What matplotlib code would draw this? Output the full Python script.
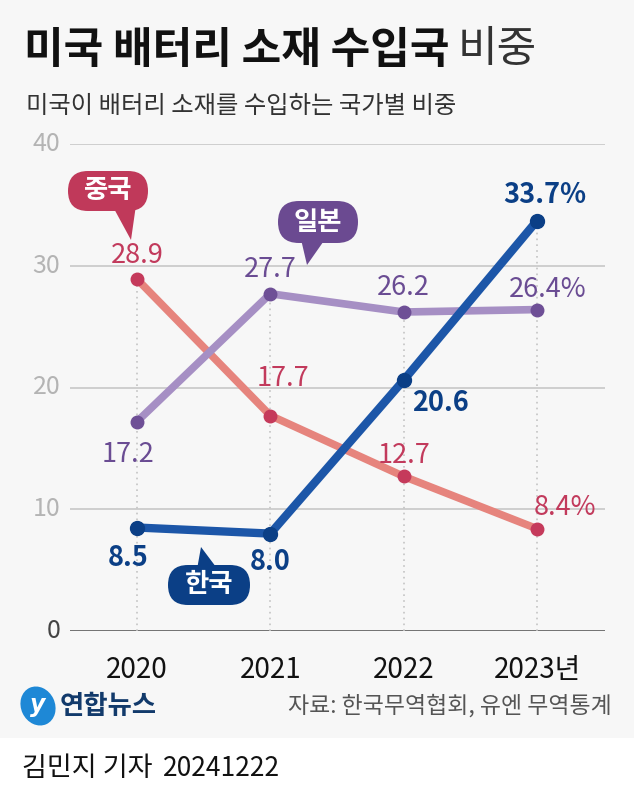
import matplotlib
matplotlib.use("Agg")
import matplotlib.pyplot as plt
from matplotlib.patches import FancyBboxPatch, Polygon, Ellipse, Rectangle

plt.rcParams['font.family'] = ['Noto Sans CJK KR', 'DejaVu Sans']

# ---- data ----
years = [2020, 2021, 2022, 2023]
year_labels = ["2020", "2021", "2022", "2023년"]
china = [28.9, 17.7, 12.7, 8.4]
japan = [17.2, 27.7, 26.2, 26.4]
korea = [8.5, 8.0, 20.6, 33.7]
china_labels = ["28.9", "17.7", "12.7", "8.4%"]
japan_labels = ["17.2", "27.7", "26.2", "26.4%"]
korea_labels = ["8.5", "8.0", "20.6", "33.7%"]
yticks = [0, 10, 20, 30, 40]

W, H = 634, 800
fig = plt.figure(figsize=(W / 100, H / 100), dpi=100)
fig.patch.set_facecolor("#f7f7f7")

bg = fig.add_axes([0, 0, 1, 1], zorder=0)
bg.set_xlim(0, W); bg.set_ylim(H, 0); bg.axis("off")
bg.add_patch(Rectangle((0, 738), W, 62, facecolor="white", edgecolor="none"))

# overlay in pixel coordinates for annotations / header / footer
ov = fig.add_axes([0, 0, 1, 1], zorder=3)
ov.set_xlim(0, W)
ov.set_ylim(H, 0)
ov.axis("off")
ov.patch.set_alpha(0)

# chart axes
L, R, B, T = 70, 605, 631, 144
ax = fig.add_axes([L / W, 1 - B / H, (R - L) / W, (B - T) / H], zorder=2)
ax.patch.set_alpha(0)
ax.set_xlim(2020 - 67 / 133.33, 2023 + 68 / 133.33)
ax.set_ylim(0, 40)
for s in ax.spines.values():
    s.set_visible(False)
ax.set_xticks([]); ax.set_yticks([])

for v in yticks:
    ax.axhline(v, color="#4a4a4a" if v == 0 else "#c8c8c8",
               lw=1.8 if v == 0 else 1.2, zorder=1)
    ax.text(-0.018, v, str(v), transform=ax.get_yaxis_transform(),
            ha="right", va="center", fontsize=18,
            color="#444444" if v == 0 else "#b4b4b4")

for i, x in enumerate(years):
    top = max(china[i], japan[i], korea[i])
    ax.plot([x, x], [0, top], color="#c4c4c4", lw=1.2, ls=(0, (1, 2.5)), zorder=1)
    ax.text(x, -2.0, year_labels[i], ha="center", va="top", fontsize=20,
            color="#111111")

# series
ax.plot(years, china, color="#e6847d", lw=5.5, zorder=3)
ax.plot(years, china, "o", color="#c53a5b", ms=9, zorder=4)
ax.plot(years, japan, color="#a68fc4", lw=5.5, zorder=3)
ax.plot(years, japan, "o", color="#6e4f96", ms=9, zorder=4)
ax.plot(years, korea, color="#1c56a8", lw=6, zorder=5)
ax.plot(years, korea, "o", color="#0b3f86", ms=10, zorder=6)

def lab(x, y, s, dx, dy, color, bold=False):
    ax.annotate(s, (x, y), xytext=(dx / 1.389, dy / 1.389), textcoords="offset points",
                ha="center", va="center", fontsize=19.5, color=color,
                fontweight="bold" if bold else "normal", zorder=7,
                annotation_clip=False)

ccol, jcol, kcol = "#c23a5c", "#6a4c93", "#0b3f86"
for x, y, s, (dx, dy) in zip(years, china, china_labels,
                             [(0, 24), (13, 37), (0, 21), (28, 21)]):
    lab(x, y, s, dx, dy, ccol)
for x, y, s, (dx, dy) in zip(years, japan, japan_labels,
                             [(-9, -33), (0, 24), (0, 25), (11, 20)]):
    lab(x, y, s, dx, dy, jcol)
for x, y, s, (dx, dy) in zip(years, korea, korea_labels,
                             [(-9, -30), (0, -28), (37, -23), (8, 26)]):
    lab(x, y, s, dx, dy, kcol, bold=True)

# speech bubbles
def bubble(cx, cy, w, h, tip, base, text, color):
    ov.add_patch(FancyBboxPatch((cx - w / 2, cy - h / 2), w, h,
                                boxstyle="round,pad=0,rounding_size=%f" % (h / 2),
                                facecolor=color, edgecolor="none", zorder=5))
    ov.add_patch(Polygon([base[0], base[1], tip], closed=True, facecolor=color,
                         edgecolor="none", zorder=5))
    ov.text(cx, cy, text, ha="center", va="center", fontsize=19, color="white",
            fontweight="bold", zorder=6)

bubble(108, 191, 80, 40, (131, 240), ((112, 205), (136, 205)), "중국", "#c0395a")
bubble(318, 222, 80, 42, (307, 265), ((300, 235), (328, 235)), "일본", "#6b4a91")
bubble(209, 585, 82, 40, (201, 547), ((196, 575), (222, 575)), "한국", "#0b3f86")

# header
t1 = ov.text(24, 50, "미국 배터리 소재 수입국", ha="left", va="center", fontsize=31,
             fontweight="bold", color="#111111")
fig.canvas.draw()
bb = t1.get_window_extent(renderer=fig.canvas.get_renderer())
ov.text(bb.x1 + 8, 50, "비중", ha="left", va="center", fontsize=31,
        fontweight="light", color="#333333")
ov.text(26, 106, "미국이 배터리 소재를 수입하는 국가별 비중", ha="left", va="center",
        fontsize=17.5, color="#333333")

# footer
ov.add_patch(Ellipse((38, 706), 34, 40, angle=-25, facecolor="#1e88d6",
                     edgecolor="none", zorder=5))
ov.text(38, 705, "y", ha="center", va="center", fontsize=17, color="white",
        fontweight="bold", style="italic", zorder=6, family=["DejaVu Sans"])
ov.text(60, 706, "연합뉴스", ha="left", va="center", fontsize=19,
        fontweight="black", color="#123a6b")
ov.text(612, 706, "자료: 한국무역협회, 유엔 무역통계", ha="right", va="center",
        fontsize=16.5, color="#555555")
ov.text(22, 768, "김민지 기자", ha="left", va="center", fontsize=19.5, color="#111111")
ov.text(163, 769, "20241222", ha="left", va="center", fontsize=19, color="#111111")

fig.savefig("out.png", dpi=100, facecolor=fig.get_facecolor())
